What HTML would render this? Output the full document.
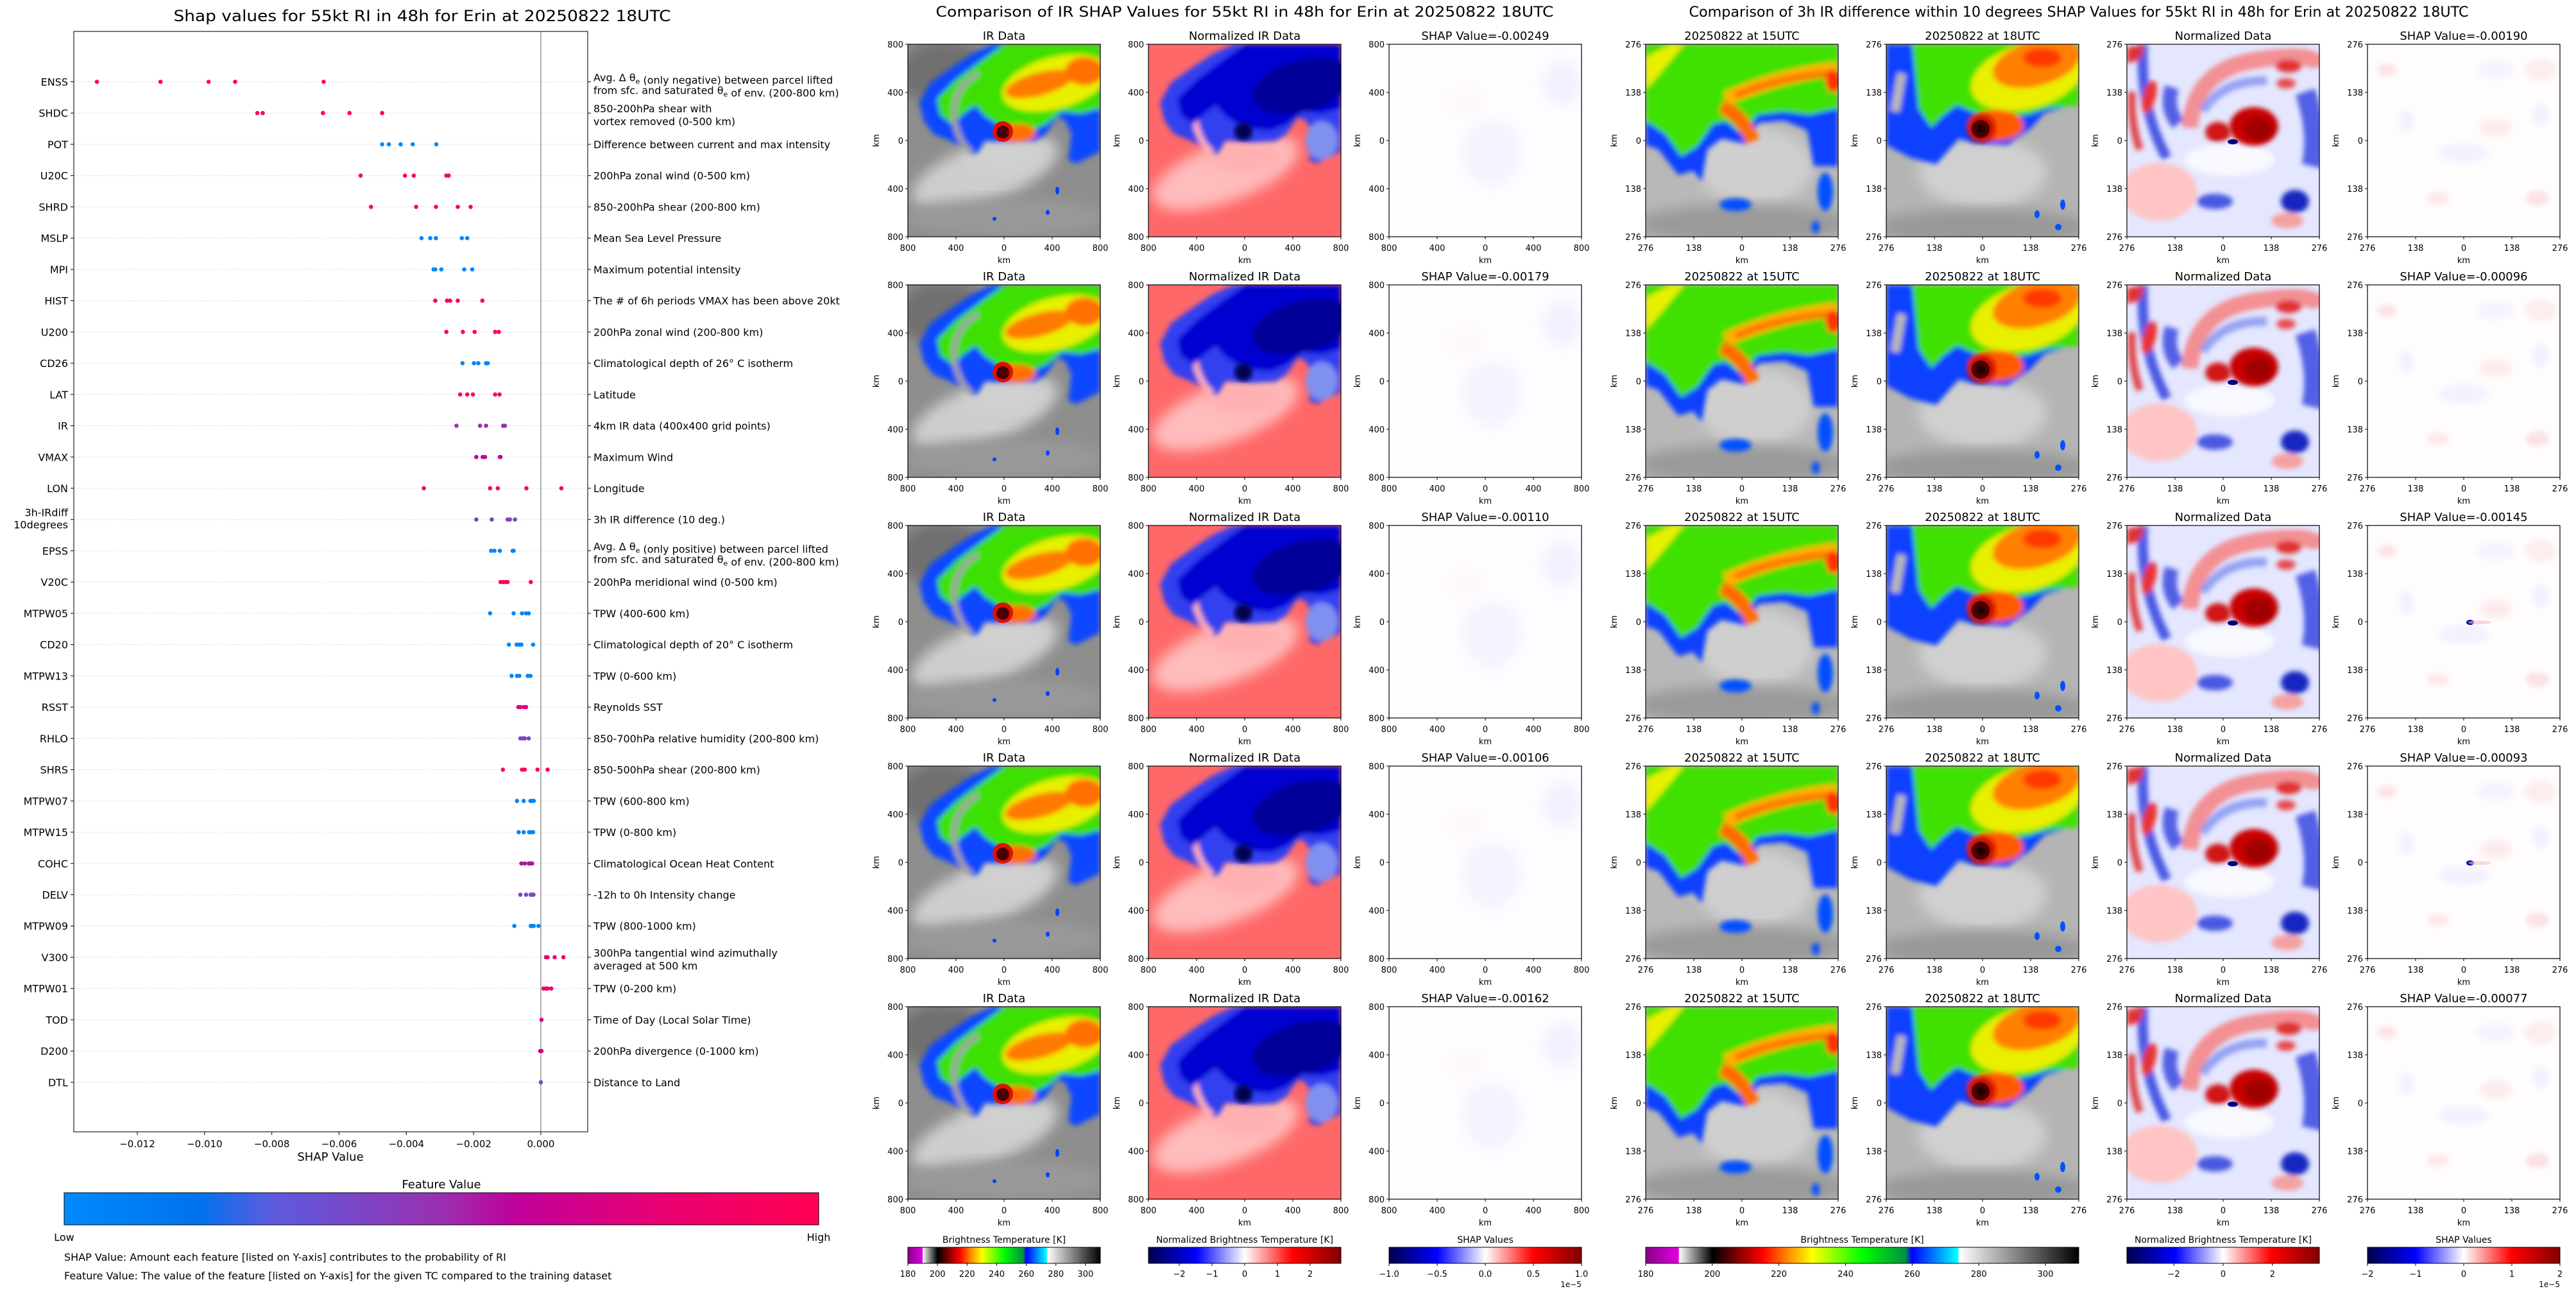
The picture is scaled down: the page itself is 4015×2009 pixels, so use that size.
<!DOCTYPE html>
<html><head><meta charset="utf-8">
<style>
html,body{margin:0;padding:0;background:#fff;}
svg{display:block;font-family:"DejaVu Sans","Liberation Sans",sans-serif;}
</style></head>
<body>
<svg id="fig" xmlns="http://www.w3.org/2000/svg" width="4015" height="2009" viewBox="0 0 4015 2009">
<defs>
  <filter id="bl" x="-10%" y="-10%" width="120%" height="120%"><feGaussianBlur stdDeviation="4"/></filter>
  <filter id="bl2" x="-20%" y="-20%" width="140%" height="140%"><feGaussianBlur stdDeviation="10"/></filter>
  <linearGradient id="shapcm" x1="0" x2="1" y1="0" y2="0">
    <stop offset="0" stop-color="#008afb"/><stop offset="0.18" stop-color="#0072ef"/>
    <stop offset="0.27" stop-color="#5a5ce0"/><stop offset="0.5" stop-color="#9a30b0"/>
    <stop offset="0.6" stop-color="#c0009a"/><stop offset="0.8" stop-color="#ea0070"/>
    <stop offset="1" stop-color="#ff0052"/>
  </linearGradient>
  <linearGradient id="btcm" x1="0" x2="1" y1="0" y2="0">
    <stop offset="0" stop-color="#8a008a"/><stop offset="0.076" stop-color="#e000e0"/>
    <stop offset="0.077" stop-color="#ffffff"/><stop offset="0.154" stop-color="#000000"/>
    <stop offset="0.27" stop-color="#ff0000"/><stop offset="0.33" stop-color="#ff9000"/>
    <stop offset="0.385" stop-color="#ffff00"/><stop offset="0.5" stop-color="#00ff00"/>
    <stop offset="0.6" stop-color="#009040"/><stop offset="0.615" stop-color="#0000ff"/>
    <stop offset="0.72" stop-color="#00ffff"/><stop offset="0.725" stop-color="#ffffff"/>
    <stop offset="1" stop-color="#000000"/>
  </linearGradient>
  <linearGradient id="seis" x1="0" x2="1" y1="0" y2="0">
    <stop offset="0" stop-color="#00004c"/><stop offset="0.25" stop-color="#0000ff"/>
    <stop offset="0.5" stop-color="#ffffff"/><stop offset="0.75" stop-color="#ff0000"/>
    <stop offset="1" stop-color="#800000"/>
  </linearGradient>

  <path id="cloudBig" d="M132,0 L300,0 L300,167 L262,186 L250,180 L255,140 L245,118 L232,114 L215,140 L198,151 L160,153 L135,151 L120,150 L110,168 L102,172 L85,160 L65,150 L40,140 L25,120 L18,91 L35,60 L70,35 L100,15 Z"/>
  <path id="cloudBigIn" d="M150,0 L300,0 L300,100 L270,108 L240,105 L215,125 L190,135 L160,132 L140,125 L120,112 L105,95 L85,110 L70,125 L50,110 L45,85 L75,55 L115,25 Z"/>

  <symbol id="irBig" viewBox="0 0 300 300">
    <rect width="300" height="300" fill="#8e8e8e"/>
    <ellipse cx="55" cy="45" rx="70" ry="50" fill="#707070" filter="url(#bl2)"/>
    <ellipse cx="120" cy="200" rx="120" ry="45" fill="#cdcdcd" transform="rotate(-20 120 200)" filter="url(#bl2)"/>
    <ellipse cx="150" cy="175" rx="60" ry="25" fill="#d0d0d0" filter="url(#bl2)"/>
    <ellipse cx="150" cy="270" rx="160" ry="30" fill="#999" filter="url(#bl2)"/>
    <g filter="url(#bl)">
      <use href="#cloudBig" fill="#0a46ff"/>
      <use href="#cloudBigIn" fill="#3ee000"/>
      <path d="M110,45 Q62,72 75,130 Q85,160 100,168" fill="none" stroke="#a0a0a0" stroke-width="9"/>
      <ellipse cx="230" cy="60" rx="85" ry="40" fill="#e8f000" transform="rotate(-15 230 60)"/>
      <ellipse cx="205" cy="62" rx="55" ry="18" fill="#ff7a00" transform="rotate(-15 205 62)"/>
      <ellipse cx="275" cy="42" rx="30" ry="22" fill="#ff7000"/>
      <ellipse cx="170" cy="138" rx="30" ry="14" fill="#ff7000"/>
    </g>
    <circle cx="148" cy="136" r="16" fill="#e01000"/>
    <circle cx="148" cy="137" r="10" fill="#4a0000"/>
    <g fill="#0040ff"><ellipse cx="233" cy="228" rx="3" ry="6"/><ellipse cx="218" cy="262" rx="3" ry="4"/><ellipse cx="135" cy="272" rx="3" ry="3"/></g>
  </symbol>

  <symbol id="normBig" viewBox="0 0 300 300">
    <rect width="300" height="300" fill="#ff6868"/>
    <ellipse cx="120" cy="200" rx="120" ry="45" fill="#ffbcbc" transform="rotate(-20 120 200)" filter="url(#bl2)"/>
    <ellipse cx="150" cy="175" rx="60" ry="25" fill="#ffb0b0" filter="url(#bl2)"/>
    <g filter="url(#bl)">
      <use href="#cloudBig" fill="#3040f0"/>
      <path d="M110,45 Q62,72 75,130 Q85,160 100,168" fill="none" stroke="#ffb0b0" stroke-width="9"/>
      <use href="#cloudBigIn" fill="#0000d0"/>
      <ellipse cx="240" cy="65" rx="80" ry="40" fill="#000098" transform="rotate(-15 240 65)"/>
      <ellipse cx="270" cy="150" rx="25" ry="30" fill="#8090f0"/>
    </g>
    <circle cx="148" cy="136" r="14" fill="#000050" filter="url(#bl)"/>
  </symbol>

  <symbol id="shapBig" viewBox="0 0 300 300">
    <rect width="300" height="300" fill="#fdfcff"/>
    <g filter="url(#bl2)" opacity="0.9">
      <ellipse cx="160" cy="170" rx="45" ry="50" fill="#f2f2ff"/>
      <ellipse cx="270" cy="60" rx="30" ry="35" fill="#f0f0ff"/>
      <ellipse cx="120" cy="90" rx="30" ry="20" fill="#fff6f6"/>
    </g>
  </symbol>

  <symbol id="ir15" viewBox="0 0 300 300">
    <rect width="300" height="300" fill="#b8b8b8"/>
    <ellipse cx="170" cy="190" rx="90" ry="60" fill="#cfcfcf" filter="url(#bl2)"/>
    <ellipse cx="150" cy="280" rx="170" ry="30" fill="#9a9a9a" filter="url(#bl2)"/>
    <g filter="url(#bl)">
      <path d="M0,0 L300,0 L300,190 L262,190 L252,134 L216,119 L176,122 L158,156 L118,147 L96,164 L87,214 L74,197 L51,204 L20,164 L0,157 Z" fill="#0a40ff"/>
      <path d="M0,0 L300,0 L300,100 L255,110 L215,105 L175,110 L150,140 L125,120 L105,125 L80,160 L55,175 L30,140 L0,120 Z" fill="#40e000"/>
      <path d="M0,20 L40,0 L60,0 L10,60 L0,70 Z" fill="#e8f000"/>
      <path d="M118,97 Q150,110 167,151" fill="none" stroke="#ff6a00" stroke-width="22"/>
      <path d="M125,85 Q200,50 297,38" fill="none" stroke="#ffb000" stroke-width="22"/>
      <path d="M140,80 Q210,50 297,45" fill="none" stroke="#ff7000" stroke-width="10"/>
      <ellipse cx="292" cy="57" rx="12" ry="18" fill="#ff3000"/>
    </g>
    <g fill="#0050ff" filter="url(#bl)"><ellipse cx="140" cy="250" rx="25" ry="10"/><ellipse cx="280" cy="230" rx="12" ry="30"/><ellipse cx="265" cy="285" rx="6" ry="10"/></g>
  </symbol>

  <symbol id="ir18" viewBox="0 0 300 300">
    <rect width="300" height="300" fill="#b4b4b4"/>
    <ellipse cx="150" cy="200" rx="100" ry="55" fill="#d0d0d0" filter="url(#bl2)"/>
    <ellipse cx="150" cy="285" rx="170" ry="28" fill="#989898" filter="url(#bl2)"/>
    <g filter="url(#bl)">
      <path d="M0,0 L300,0 L300,91 L247,107 L225,131 L189,157 L136,154 L113,147 L78,187 L38,177 L0,157 Z" fill="#0a40ff"/>
      <path d="M40,0 L300,0 L300,95 L250,100 L220,110 L170,112 L140,108 L110,95 L90,110 L70,130 L50,100 L45,50 Z" fill="#40e000"/>
      <ellipse cx="220" cy="50" rx="90" ry="50" fill="#e8f000" transform="rotate(-15 220 50)"/>
      <ellipse cx="234" cy="30" rx="70" ry="35" fill="#ff8000" transform="rotate(-15 234 30)"/>
      <ellipse cx="243" cy="21" rx="30" ry="15" fill="#ff3800"/>
      <rect x="12" y="45" width="14" height="60" fill="#b8b8b8" transform="rotate(10 19 74)"/>
      <ellipse cx="172" cy="126" rx="42" ry="24" fill="#ff5a00"/>
    </g>
    <circle cx="148" cy="131" r="22" fill="#c81000" filter="url(#bl)"/>
    <circle cx="147" cy="132" r="14" fill="#4a0000"/>
    <circle cx="148" cy="132" r="6" fill="#200000"/>
    <g fill="#0050ff"><ellipse cx="235" cy="265" rx="4" ry="6"/><ellipse cx="275" cy="250" rx="4" ry="8"/><ellipse cx="268" cy="285" rx="5" ry="5"/></g>
  </symbol>

  <symbol id="norm3h" viewBox="0 0 300 300">
    <rect width="300" height="300" fill="#e4e7ff"/>
    <g filter="url(#bl)">
      <ellipse cx="50" cy="230" rx="60" ry="45" fill="#ffc4c4"/>
      <ellipse cx="160" cy="180" rx="70" ry="25" fill="#f8f8ff"/>
      <path d="M98,130 Q105,40 200,25 T300,35" fill="none" stroke="#f48080" stroke-width="26" opacity="0.85"/>
      <path d="M118,104 Q150,55 218,57" fill="none" stroke="#8090f0" stroke-width="14" opacity="0.8"/>
      <path d="M25,0 Q20,100 62,177" fill="none" stroke="#3040e0" stroke-width="16" opacity="0.85"/>
      <path d="M70,67 Q60,100 80,124" fill="none" stroke="#3848e0" stroke-width="22" opacity="0.85"/>
      <path d="M8,74 Q5,120 20,164" fill="none" stroke="#e02828" stroke-width="12" opacity="0.85"/>
      <ellipse cx="35" cy="82" rx="10" ry="26" fill="#e83030" transform="rotate(15 35 82)"/>
      <path d="M0,5 L28,0 L20,24 L0,30 Z" fill="#e03030"/>
      <path d="M278,74 Q300,140 288,190" fill="none" stroke="#3848e0" stroke-width="32" opacity="0.85"/>
      <ellipse cx="252" cy="34" rx="20" ry="10" fill="#e03030"/>
      <ellipse cx="248" cy="61" rx="15" ry="8" fill="#e84848"/>
      <ellipse cx="137" cy="245" rx="28" ry="12" fill="#4858e0"/>
      <ellipse cx="262" cy="245" rx="22" ry="18" fill="#1828c0"/>
      <ellipse cx="250" cy="275" rx="25" ry="12" fill="#f4a0a0"/>
      <ellipse cx="142" cy="137" rx="20" ry="16" fill="#d01818"/>
    </g>
    <ellipse cx="198" cy="128" rx="38" ry="30" fill="#c80000" filter="url(#bl)"/>
    <ellipse cx="205" cy="132" rx="22" ry="18" fill="#a00000" filter="url(#bl)"/>
    <ellipse cx="165" cy="152" rx="8" ry="4" fill="#000080"/>
  </symbol>

  <symbol id="shap3h" viewBox="0 0 300 300">
    <rect width="300" height="300" fill="#fffcfd"/>
    <g filter="url(#bl)" opacity="0.8">
      <ellipse cx="30" cy="40" rx="15" ry="10" fill="#fcdede"/>
      <ellipse cx="60" cy="120" rx="12" ry="18" fill="#f0f0ff"/>
      <ellipse cx="150" cy="170" rx="40" ry="15" fill="#f0f0ff"/>
      <ellipse cx="200" cy="130" rx="25" ry="15" fill="#fde8e8"/>
      <ellipse cx="270" cy="110" rx="12" ry="18" fill="#eeeeff"/>
      <ellipse cx="110" cy="240" rx="18" ry="10" fill="#fde4e4"/>
      <ellipse cx="265" cy="240" rx="18" ry="12" fill="#fcdcdc"/>
      <ellipse cx="200" cy="40" rx="30" ry="15" fill="#f3f3ff"/>
      <ellipse cx="270" cy="40" rx="25" ry="18" fill="#fdeaea"/>
    </g>
  </symbol>
  <symbol id="shapSpot" viewBox="0 0 300 300">
    <ellipse cx="160" cy="151" rx="6" ry="4" fill="#0010b0"/>
    <ellipse cx="175" cy="151" rx="18" ry="3" fill="#f4c0c0" opacity="0.6"/>
  </symbol>
</defs>
</svg>

<script>
// ---------------- SHAP summary data ----------------
const features = ["ENSS","SHDC","POT","U20C","SHRD","MSLP","MPI","HIST","U200","CD26","LAT","IR","VMAX","LON","3h-IRdiff\n10degrees","EPSS","V20C","MTPW05","CD20","MTPW13","RSST","RHLO","SHRS","MTPW07","MTPW15","COHC","DELV","MTPW09","V300","MTPW01","TOD","D200","DTL"];
const descriptions = [
 ["Avg. Δ θ_e (only negative) between parcel lifted","from sfc. and saturated θ_e of env. (200-800 km)"],
 ["850-200hPa shear with","vortex removed (0-500 km)"],
 ["Difference between current and max intensity"],
 ["200hPa zonal wind (0-500 km)"],
 ["850-200hPa shear (200-800 km)"],
 ["Mean Sea Level Pressure"],
 ["Maximum potential intensity"],
 ["The # of 6h periods VMAX has been above 20kt"],
 ["200hPa zonal wind (200-800 km)"],
 ["Climatological depth of 26° C isotherm"],
 ["Latitude"],
 ["4km IR data (400x400 grid points)"],
 ["Maximum Wind"],
 ["Longitude"],
 ["3h IR difference (10 deg.)"],
 ["Avg. Δ θ_e (only positive) between parcel lifted","from sfc. and saturated θ_e of env. (200-800 km)"],
 ["200hPa meridional wind (0-500 km)"],
 ["TPW (400-600 km)"],
 ["Climatological depth of 20° C isotherm"],
 ["TPW (0-600 km)"],
 ["Reynolds SST"],
 ["850-700hPa relative humidity (200-800 km)"],
 ["850-500hPa shear (200-800 km)"],
 ["TPW (600-800 km)"],
 ["TPW (0-800 km)"],
 ["Climatological Ocean Heat Content"],
 ["-12h to 0h Intensity change"],
 ["TPW (800-1000 km)"],
 ["300hPa tangential wind azimuthally","averaged at 500 km"],
 ["TPW (0-200 km)"],
 ["Time of Day (Local Solar Time)"],
 ["200hPa divergence (0-1000 km)"],
 ["Distance to Land"]
];
const shapValues = [
 [-0.01320,-0.01131,-0.00988,-0.00909,-0.00646],
 [-0.00843,-0.00827,-0.00648,-0.00569,-0.00472],
 [-0.00472,-0.00452,-0.00417,-0.00381,-0.00311],
 [-0.00536,-0.00404,-0.00378,-0.00281,-0.00274],
 [-0.00505,-0.00371,-0.00312,-0.00247,-0.00209],
 [-0.00355,-0.00329,-0.00312,-0.00235,-0.00219],
 [-0.00319,-0.00314,-0.00296,-0.00228,-0.00204],
 [-0.00314,-0.00279,-0.00270,-0.00247,-0.00174],
 [-0.00281,-0.00232,-0.00197,-0.00136,-0.00125],
 [-0.00233,-0.00199,-0.00186,-0.00163,-0.00158],
 [-0.00240,-0.00219,-0.00202,-0.00136,-0.00123],
 [-0.00251,-0.00181,-0.00163,-0.00112,-0.00107],
 [-0.00192,-0.00173,-0.00166,-0.00122,-0.00120],
 [-0.00348,-0.00151,-0.00128,-0.00043,0.00061],
 [-0.00192,-0.00146,-0.00099,-0.00092,-0.00077],
 [-0.00148,-0.00138,-0.00122,-0.00084,-0.00081],
 [-0.00120,-0.00112,-0.00105,-0.00099,-0.00030],
 [-0.00151,-0.00081,-0.00056,-0.00044,-0.00036],
 [-0.00095,-0.00072,-0.00064,-0.00058,-0.00023],
 [-0.00087,-0.00071,-0.00064,-0.00039,-0.00031],
 [-0.00067,-0.00061,-0.00051,-0.00044],
 [-0.00061,-0.00054,-0.00048,-0.00036],
 [-0.00113,-0.00056,-0.00048,-0.00010,0.00020],
 [-0.00071,-0.00051,-0.00031,-0.00026,-0.00021],
 [-0.00066,-0.00051,-0.00035,-0.00028,-0.00023],
 [-0.00058,-0.00048,-0.00036,-0.00031,-0.00026],
 [-0.00061,-0.00044,-0.00030,-0.00026,-0.00022],
 [-0.00079,-0.00030,-0.00026,-0.00021,-0.00007],
 [0.00015,0.00020,0.00041,0.00067],
 [0.00008,0.00015,0.00020,0.00031],
 [0.00002],
 [-0.00002,0.00002],
 [0.00000]
];
const featureLevels = [1,1,0,1,1,0.02,0.02,1,1,0.03,1,0.5,0.62,1,0.4,0.03,1,0.03,0.03,0.03,0.75,0.4,0.95,0.03,0.03,0.55,0.4,0.03,0.85,0.85,0.7,0.65,0.4];
const xTickValues = [-0.012,-0.010,-0.008,-0.006,-0.004,-0.002,0.000];
const xTickLabels = ["\u22120.012","\u22120.010","\u22120.008","\u22120.006","\u22120.004","\u22120.002","0.000"];

// ---------------- image panel labels ----------------
const irShapTitles = ["SHAP Value=-0.00249","SHAP Value=-0.00179","SHAP Value=-0.00110","SHAP Value=-0.00106","SHAP Value=-0.00162"];
const diffShapTitles = ["SHAP Value=-0.00190","SHAP Value=-0.00096","SHAP Value=-0.00145","SHAP Value=-0.00093","SHAP Value=-0.00077"];
const kmTicksBig = ["800","400","0","400","800"];
const kmTicksSmall = ["276","138","0","138","276"];
const btTicks = [180,200,220,240,260,280,300];
const normIRTicks = [-2,-1,0,1,2];
const shapIRTicks = [-1.0,-0.5,0.0,0.5,1.0];
const normDiffTicks = [-2,0,2];
const shapDiffTicks = [-2,-1,0,1,2];

const NS = 'http://www.w3.org/2000/svg';
const svg = document.getElementById('fig');
function mk(tag, attrs, parent){ const e = document.createElementNS(NS, tag); for (const k in attrs) e.setAttribute(k, attrs[k]); (parent||svg).appendChild(e); return e; }
function txt(str, attrs, parent){ const e = mk('text', attrs, parent); e.textContent = str; return e; }

const cmapStops = [[0,[0,138,251]],[0.18,[0,114,239]],[0.27,[90,92,224]],[0.5,[154,48,176]],[0.6,[192,0,154]],[0.8,[234,0,112]],[1,[255,0,82]]];
function featColor(t){
  for (let i=1;i<cmapStops.length;i++){
    if (t<=cmapStops[i][0]){
      const a=cmapStops[i-1], b=cmapStops[i]; const f=(t-a[0])/(b[0]-a[0]);
      const c=a[1].map((v,j)=>Math.round(v+(b[1][j]-v)*f));
      return 'rgb('+c.join(',')+')';
    }
  }
  return 'rgb(255,0,82)';
}

// ================= LEFT: SHAP summary =================
const AX = {l:115, r:916, t:49, b:1764};
const xScale = v => 843 + v*52417;
const rowY = i => 127.5 + i*48.73;

const leftG = mk('g', {});



const ttl = txt('Shap values for 55kt RI in 48h for Erin at 20250822 18UTC', {x:658, y:33, 'text-anchor':'middle', 'font-size':24, textLength:775, lengthAdjust:'spacingAndGlyphs'}, leftG);



features.forEach((f,i)=>{
  const y = rowY(i);
  const gl = mk('line', {x1:AX.l, x2:AX.r, y1:y, y2:y, stroke:'#cccccc', 'stroke-width':1, 'stroke-dasharray':'1.5,3'}, leftG);
  
  
  mk('line', {x1:AX.l-5, x2:AX.l, y1:y, y2:y, stroke:'#000'}, leftG);
  mk('line', {x1:AX.r, x2:AX.r+5, y1:y, y2:y, stroke:'#000'}, leftG);
  const parts = f.split('\n');
  parts.forEach((p,k)=>{
    const dy = parts.length>1 ? (k===0?-5:14) : 6;
    const lb = txt(p, {x:AX.l-9, y:y+dy, 'text-anchor':'end', 'font-size':16}, leftG);
    
    
  });
  const d = descriptions[i];
  d.forEach((line,k)=>{
    const dy = d.length>1 ? (k===0?-1:19) : 6;
    const t = mk('text', {x:AX.r+9, y:y+dy, 'font-size':16}, leftG);
    
    
    const segs = line.split('_e');
    segs.forEach((s,j)=>{
      const a = document.createElementNS(NS,'tspan'); a.textContent = s; t.appendChild(a);
      if (j<segs.length-1){ const sub=document.createElementNS(NS,'tspan'); sub.setAttribute('font-size','11'); sub.setAttribute('dy','4'); sub.textContent='e'; t.appendChild(sub);
        const back=document.createElementNS(NS,'tspan'); back.setAttribute('dy','-4'); back.textContent=''; t.appendChild(back);}
    });
  });
});

const zl = mk('line', {x1:xScale(0), x2:xScale(0), y1:AX.t, y2:AX.b, stroke:'#999', 'stroke-width':1.5}, leftG);



shapValues.forEach((vals,i)=>{
  vals.forEach((v,k)=>{
    const c = mk('circle', {cx:xScale(v), cy:rowY(i), r:3.3, fill:featColor(featureLevels[i])}, leftG);
    
    
  });
});

const fr = mk('rect', {x:AX.l, y:AX.t, width:AX.r-AX.l, height:AX.b-AX.t, fill:'none', stroke:'#222', 'stroke-width':1.2}, leftG);



xTickValues.forEach((v,i)=>{
  mk('line', {x1:xScale(v), x2:xScale(v), y1:AX.b, y2:AX.b+5, stroke:'#000'}, leftG);
  const tl = txt(xTickLabels[i], {x:xScale(v), y:AX.b+24, 'text-anchor':'middle', 'font-size':15}, leftG);
  
  
});
const xt = txt('SHAP Value', {x:515, y:1809, 'text-anchor':'middle', 'font-size':18}, leftG);



const fvt = txt('Feature Value', {x:688, y:1852, 'text-anchor':'middle', 'font-size':18}, leftG);


const cb = mk('rect', {x:100, y:1859, width:1176, height:50, fill:'url(#shapcm)', stroke:'#000', 'stroke-width':1}, leftG);


const lo = txt('Low', {x:100, y:1934, 'text-anchor':'middle', 'font-size':16}, leftG);


const hi = txt('High', {x:1276, y:1934, 'text-anchor':'middle', 'font-size':16}, leftG);


const n1 = txt('SHAP Value: Amount each feature [listed on Y-axis] contributes to the probability of RI', {x:100, y:1965, 'font-size':16}, leftG);


const n2 = txt('Feature Value: The value of the feature [listed on Y-axis] for the given TC compared to the training dataset', {x:100, y:1994, 'font-size':16}, leftG);



// ================= image panels =================
const ROW_T = i => 69 + 375*i;
const PW = 300, PH = 300;

function panel(x, y, sym, title, ticks, name, extraSym){
  const g = mk('g', {});
  
  
  mk('use', {href:'#'+sym, x:x, y:y, width:PW, height:PH}, g);
  if (extraSym) mk('use', {href:'#'+extraSym, x:x, y:y, width:PW, height:PH}, g);
  mk('rect', {x:x, y:y, width:PW, height:PH, fill:'none', stroke:'#000', 'stroke-width':1.2}, g);
  const t = txt(title, {x:x+PW/2, y:y-7, 'text-anchor':'middle', 'font-size':18}, g);
  
  
  ticks.forEach((lab,k)=>{
    const ty = y + PH*k/4, tx = x + PW*k/4;
    mk('line', {x1:x-4, x2:x, y1:ty, y2:ty, stroke:'#000'}, g);
    const yl = txt(lab, {x:x-7, y:ty+5, 'text-anchor':'end', 'font-size':13}, g);
    
    
    mk('line', {x1:tx, x2:tx, y1:y+PH, y2:y+PH+4, stroke:'#000'}, g);
    const xl = txt(lab, {x:tx, y:y+PH+22, 'text-anchor':'middle', 'font-size':13}, g);
    
    
  });
  const xk = txt('km', {x:x+PW/2, y:y+PH+41, 'text-anchor':'middle', 'font-size':13}, g);
  
  
  const yk = txt('km', {x:0, y:0, 'text-anchor':'middle', 'font-size':13, transform:'translate('+(x-45)+','+(y+PH/2)+') rotate(-90)'}, g);
  
  
}

const st1 = txt('Comparison of IR SHAP Values for 55kt RI in 48h for Erin at 20250822 18UTC', {x:1940, y:26, 'text-anchor':'middle', 'font-size':22, textLength:963, lengthAdjust:'spacingAndGlyphs'});


const st2 = txt('Comparison of 3h IR difference within 10 degrees SHAP Values for 55kt RI in 48h for Erin at 20250822 18UTC', {x:3240, y:26, 'text-anchor':'middle', 'font-size':22, textLength:1215, lengthAdjust:'spacingAndGlyphs'});



for (let r=0;r<5;r++){
  const y = ROW_T(r);
  panel(1415, y, 'irBig', 'IR Data', kmTicksBig, 'ir-data-panel');
  panel(1790, y, 'normBig', 'Normalized IR Data', kmTicksBig, 'normalized-ir-panel');
  panel(2165, y, 'shapBig', irShapTitles[r], kmTicksBig, 'ir-shap-panel');
  panel(2565, y, 'ir15', '20250822 at 15UTC', kmTicksSmall, 'ir-15utc-panel');
  panel(2940, y, 'ir18', '20250822 at 18UTC', kmTicksSmall, 'ir-18utc-panel');
  panel(3315, y, 'norm3h', 'Normalized Data', kmTicksSmall, 'normalized-diff-panel');
  panel(3690, y, 'shap3h', diffShapTitles[r], kmTicksSmall, 'diff-shap-panel', (r===2||r===3)?'shapSpot':null);
}

// ================= colorbars =================
function colorbar(x, w, grad, title, ticks, vmin, vmax, fmt, name, offset){
  const g = mk('g', {});
  
  
  const t = txt(title, {x:x+w/2, y:1937, 'text-anchor':'middle', 'font-size':14}, g);
  
  
  mk('rect', {x:x, y:1944, width:w, height:25, fill:'url(#'+grad+')', stroke:'#000', 'stroke-width':1}, g);
  ticks.forEach(v=>{
    const tx = x + (v-vmin)/(vmax-vmin)*w;
    mk('line', {x1:tx, x2:tx, y1:1969, y2:1973, stroke:'#000'}, g);
    const l = txt(fmt(v), {x:tx, y:1990, 'text-anchor':'middle', 'font-size':13}, g);
    
    
  });
  if (offset){
    const o = txt(offset, {x:x+w, y:2006, 'text-anchor':'end', 'font-size':12}, g);
    
    
  }
}
const fmtInt = v => (v<0?'\u2212':'') + Math.abs(v);
const fmt1 = v => (v<0?'\u2212':'') + Math.abs(v).toFixed(1);
colorbar(1415, 300, 'btcm', 'Brightness Temperature [K]', btTicks, 180, 310, fmtInt, 'ir-brightness-colorbar');
colorbar(1790, 300, 'seis', 'Normalized Brightness Temperature [K]', normIRTicks, -2.94, 2.94, fmtInt, 'ir-normalized-colorbar');
colorbar(2165, 300, 'seis', 'SHAP Values', shapIRTicks, -1, 1, fmt1, 'ir-shap-colorbar', '1e\u22125');
colorbar(2565, 675, 'btcm', 'Brightness Temperature [K]', btTicks, 180, 310, fmtInt, 'diff-brightness-colorbar');
colorbar(3315, 300, 'seis', 'Normalized Brightness Temperature [K]', normDiffTicks, -3.9, 3.9, fmtInt, 'diff-normalized-colorbar');
colorbar(3690, 300, 'seis', 'SHAP Values', shapDiffTicks, -2, 2, fmtInt, 'diff-shap-colorbar', '1e\u22125');
</script>
</body></html>
